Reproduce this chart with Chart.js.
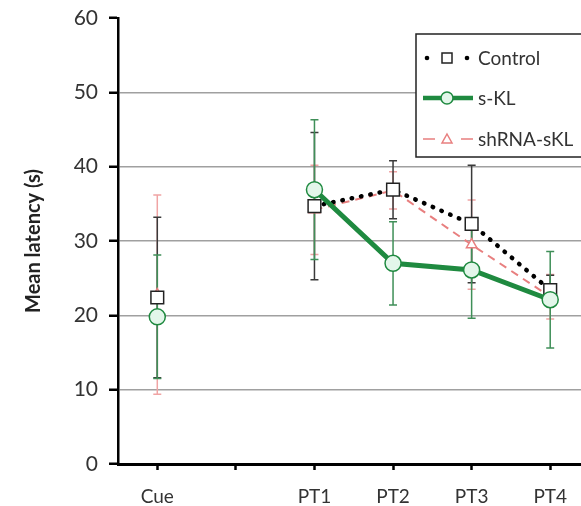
<!DOCTYPE html>
<html>
<head>
<meta charset="utf-8">
<script src="https://cdn.jsdelivr.net/npm/chart.js@4.4.1/dist/chart.umd.min.js"></script>
<style>
html,body{margin:0;padding:0;background:#fff;overflow:hidden;}
#wrap{width:600px;height:506px;}
</style>
</head>
<body>
<div id="wrap"><canvas id="c" width="600" height="506"></canvas></div>
<script>
const categories = ['Cue', '', 'PT1', 'PT2', 'PT3', 'PT4'];
const controlValues = [22.4, null, 34.7, 36.9, 32.3, 23.4];
const controlErrors = [10.8, null, 9.9, 3.9, 7.9, 2.0];
const sklValues = [19.8, null, 36.9, 27.0, 26.1, 22.1];
const sklErrors = [8.3, null, 9.4, 5.6, 6.5, 6.5];
const shrnaValues = [22.8, null, 34.2, 36.8, 29.5, 22.5];
const shrnaErrors = [13.4, null, 6.0, 2.5, 6.0, 3.0];
const yTicks = [0, 10, 20, 30, 40, 50, 60];
const seriesNames = ['Control', 's-KL', 'shRNA-sKL'];

const FONT = 'Lato, "Open Sans", sans-serif';
const GREEN = '#1f8a40';
const RED = '#e87f7f';

const errorBars = {
  id: 'errorBars',
  beforeDatasetsDraw(chart) {
    const ctx = chart.ctx;
    const y = chart.scales.y;
    const errs = [controlErrors, sklErrors, shrnaErrors];
    const cols = ['#3a3a3a', '#3f8f58', '#f0a4a4'];
    const order = [2, 0, 1];
    ctx.save();
    order.forEach(di => {
      const meta = chart.getDatasetMeta(di);
      const vals = chart.data.datasets[di].data;
      ctx.strokeStyle = cols[di];
      ctx.lineWidth = 1.5;
      meta.data.forEach((pt, i) => {
        if (vals[i] == null || errs[di][i] == null) return;
        const x = pt.x;
        const yt = y.getPixelForValue(vals[i] + errs[di][i]);
        const yb = y.getPixelForValue(vals[i] - errs[di][i]);
        ctx.beginPath();
        ctx.moveTo(x, yt); ctx.lineTo(x, yb);
        ctx.moveTo(x - 4, yt); ctx.lineTo(x + 4, yt);
        ctx.moveTo(x - 4, yb); ctx.lineTo(x + 4, yb);
        ctx.stroke();
      });
    });
    ctx.restore();
  }
};

const boxLegend = {
  id: 'boxLegend',
  afterDraw(chart) {
    const ctx = chart.ctx;
    const left = 416, top = 34, w = 200, h = 123;
    ctx.save();
    ctx.fillStyle = '#fff';
    ctx.fillRect(left, top, w, h);
    ctx.strokeStyle = '#222';
    ctx.lineWidth = 1.5;
    ctx.strokeRect(left, top, w, h);
    const rows = [58, 98, 139];
    const x0 = 423, x1 = 473, xm = 447;
    ctx.font = '19px ' + FONT;
    ctx.textBaseline = 'middle';
    ctx.textAlign = 'left';
    rows.forEach((ry, i) => {
      ctx.save();
      if (i === 0) {
        ctx.fillStyle = '#000';
        [427, 467].forEach(dx => { ctx.beginPath(); ctx.arc(dx, ry, 2.3, 0, Math.PI * 2); ctx.fill(); });
        ctx.fillStyle = '#fff'; ctx.strokeStyle = '#222'; ctx.lineWidth = 1.5;
        ctx.fillRect(xm - 5, ry - 5, 10, 10); ctx.strokeRect(xm - 5, ry - 5, 10, 10);
      } else if (i === 1) {
        ctx.strokeStyle = GREEN; ctx.lineWidth = 4.5;
        ctx.beginPath(); ctx.moveTo(x0, ry); ctx.lineTo(x1, ry); ctx.stroke();
        ctx.fillStyle = '#e3f6ea'; ctx.lineWidth = 1.5;
        ctx.beginPath(); ctx.arc(xm, ry, 6, 0, Math.PI * 2); ctx.fill(); ctx.stroke();
      } else {
        ctx.strokeStyle = RED; ctx.lineWidth = 1.5;
        ctx.beginPath(); ctx.moveTo(x0, ry); ctx.lineTo(x0 + 12, ry); ctx.moveTo(x1 - 12, ry); ctx.lineTo(x1, ry); ctx.stroke();
        ctx.fillStyle = '#fff';
        ctx.beginPath(); ctx.moveTo(xm, ry - 5); ctx.lineTo(xm + 5, ry + 4); ctx.lineTo(xm - 5, ry + 4); ctx.closePath(); ctx.fill(); ctx.stroke();
      }
      ctx.restore();
      ctx.fillStyle = '#333';
      ctx.fillText(seriesNames[i], 478, ry + 1);
    });
    ctx.restore();
  }
};

new Chart(document.getElementById('c'), {
  type: 'line',
  data: {
    labels: categories,
    datasets: [
      {
        label: seriesNames[0], data: controlValues, order: 1,
        borderColor: '#000', borderWidth: 4.5, borderDash: [0.5, 9], borderCapStyle: 'round',
        pointStyle: 'rect', pointRadius: 9, pointBackgroundColor: '#fff', pointBorderColor: '#222', pointBorderWidth: 1.5,
        spanGaps: false, tension: 0
      },
      {
        label: seriesNames[1], data: sklValues, order: 0,
        borderColor: GREEN, borderWidth: 5,
        pointStyle: 'circle', pointRadius: 8, pointBackgroundColor: '#e3f6ea', pointBorderColor: GREEN, pointBorderWidth: 1.5,
        spanGaps: false, tension: 0
      },
      {
        label: seriesNames[2], data: shrnaValues, order: 2,
        borderColor: RED, borderWidth: 2, borderDash: [8, 6],
        pointStyle: 'triangle', pointRadius: 6, pointBackgroundColor: '#fff', pointBorderColor: RED, pointBorderWidth: 1.5,
        spanGaps: false, tension: 0
      }
    ]
  },
  options: {
    responsive: false,
    animation: false,
    layout: { padding: { left: 22, top: 0, right: 10, bottom: 0 } },
    plugins: { legend: { display: false }, tooltip: { enabled: false } },
    scales: {
      x: {
        type: 'category',
        offset: true,
        afterFit(s) { s.height = 42; },
        grid: { drawOnChartArea: false, drawTicks: true, tickLength: 6, tickColor: '#000', tickWidth: 2.5 },
        border: { color: '#000', width: 3 },
        ticks: { color: '#333', font: { family: FONT, size: 19 }, padding: 15, autoSkip: false, maxRotation: 0 }
      },
      y: {
        min: 0, max: 60,
        afterFit(s) { s.width = 96; s.paddingTop = 18; },
        afterBuildTicks(s) { s.ticks = yTicks.map(v => ({ value: v })); },
        grid: {
          color: c => (c.tick && (c.tick.value === 0 || c.tick.value === 60)) ? 'rgba(0,0,0,0)' : '#a0a0a0',
          lineWidth: 1.5, tickLength: 9, tickColor: '#000', tickWidth: 2.5
        },
        border: { color: '#000', width: 2.5 },
        ticks: { color: '#333', font: { family: FONT, size: 21, lineHeight: 1 }, padding: 11 },
        title: { display: true, text: 'Mean latency (s)', color: '#222', font: { family: FONT, size: 20, weight: 'bold' }, padding: { top: 0, bottom: 0 } }
      }
    }
  },
  plugins: [errorBars, boxLegend]
});
</script>
</body>
</html>
